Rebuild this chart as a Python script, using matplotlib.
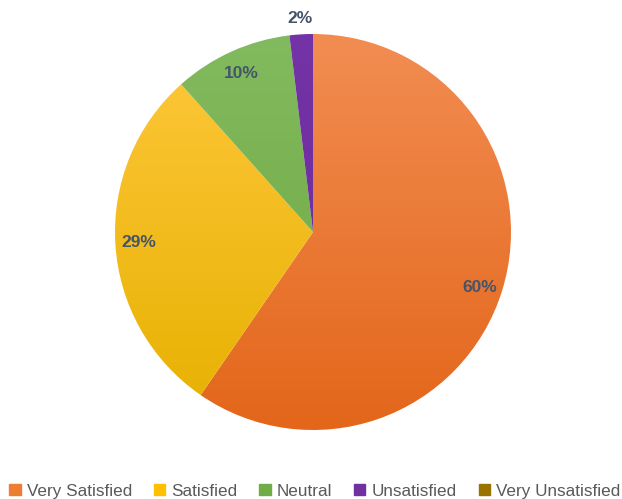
import matplotlib.pyplot as plt
import numpy as np
from matplotlib.colors import LinearSegmentedColormap

# data
categories = ['Very Satisfied', 'Satisfied', 'Neutral', 'Unsatisfied', 'Very Unsatisfied']
values = [59.6, 28.8, 9.7, 1.9, 0.0]
pct_labels = ['60%', '29%', '10%', '2%', '']
top_colors = ['#F28D52', '#FFC83C', '#82BA5F', '#7433A6', '#9E7700']
bottom_colors = ['#E3661A', '#E6B000', '#6EA73E', '#6A2C98', '#8F6B00']
legend_colors = ['#ED7D31', '#FFC000', '#70AD47', '#7030A0', '#997300']

W, H = 622, 499
fig = plt.figure(figsize=(W / 100, H / 100), dpi=100)
ax = fig.add_axes([0, 0, 1, 1])
ax.axis('off')

cx, cy, r = 313, H - 232, 198

wedges, _ = ax.pie(values, startangle=90, counterclock=False, radius=r,
                   center=(cx, cy), colors=legend_colors,
                   wedgeprops=dict(linewidth=0))
ax.set_xlim(0, W)
ax.set_ylim(0, H)
ax.set_aspect('equal')

# vertical gradient fill per wedge
grad = np.linspace(0, 1, 256).reshape(-1, 1)
for w, c1, c2 in zip(wedges, top_colors, bottom_colors):
    cmap = LinearSegmentedColormap.from_list('g', [c2, c1])
    im = ax.imshow(grad, cmap=cmap, origin='lower', aspect='auto',
                   extent=(cx - r, cx + r, cy - r, cy + r), zorder=2)
    im.set_clip_path(w)
    w.set_facecolor('none')

# percentage labels
theta = 90.0
total = sum(values)
for v, lab in zip(values, pct_labels):
    span = 360 * v / total
    mid = np.deg2rad(theta - span / 2)
    theta -= span
    if not lab:
        continue
    dist = 1.08 if v < 5 else 0.88
    ax.text(cx + dist * r * np.cos(mid), cy + dist * r * np.sin(mid) - (4 if v > 50 else 0), lab,
            ha='center', va='center', fontsize=12.5, fontweight='bold',
            color='#44546A', family='Liberation Sans', zorder=5)

handles = [plt.Rectangle((0, 0), 1, 1, color=c) for c in legend_colors]
leg = fig.legend(handles, categories, loc='lower center', ncol=5,
                 bbox_to_anchor=(0.506, -0.03), frameon=False,
                 handlelength=0.65, handleheight=0.65, handletextpad=0.35,
                 columnspacing=1.3,
                 prop={'family': 'Liberation Sans', 'size': 12.3})
for t in leg.get_texts():
    t.set_color('#595959')

fig.savefig('out.png', dpi=100)
